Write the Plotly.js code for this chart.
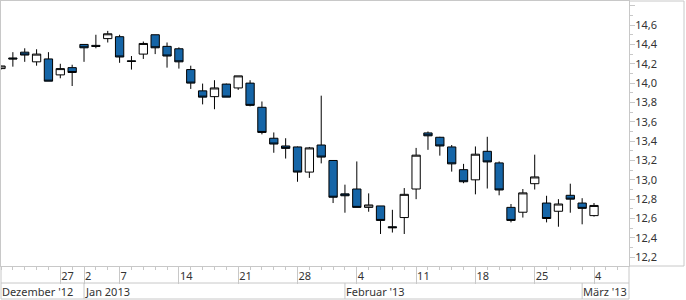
<!DOCTYPE html>
<html><head><meta charset="utf-8">
<script src="https://cdn.plot.ly/plotly-3.0.1.min.js"></script>
<style>html,body{margin:0;padding:0;background:#fff}#chart{width:686px;height:300px}</style>
</head><body><div id="chart"></div>
<script>
const dates = ['2012-12-17','2012-12-18','2012-12-19','2012-12-20','2012-12-21','2012-12-27','2012-12-28',
 '2013-01-02','2013-01-03','2013-01-04','2013-01-07','2013-01-08','2013-01-09','2013-01-10','2013-01-11',
 '2013-01-14','2013-01-15','2013-01-16','2013-01-17','2013-01-18','2013-01-21','2013-01-22','2013-01-23',
 '2013-01-24','2013-01-25','2013-01-28','2013-01-29','2013-01-30','2013-01-31','2013-02-01','2013-02-04',
 '2013-02-05','2013-02-06','2013-02-07','2013-02-08','2013-02-11','2013-02-12','2013-02-13','2013-02-14',
 '2013-02-15','2013-02-18','2013-02-19','2013-02-20','2013-02-21','2013-02-22','2013-02-25','2013-02-26',
 '2013-02-27','2013-02-28','2013-03-01','2013-03-04'];
const openP  = [14.15,14.26,14.32,14.22,14.25,14.085,14.16,14.40,14.39,14.46,14.48,14.23,14.30,14.50,14.38,
 14.355,14.14,13.92,13.86,13.99,13.95,14.00,13.75,13.43,13.35,13.34,13.08,13.36,13.20,12.855,12.905,
 12.715,12.73,12.515,12.61,12.905,13.485,13.44,13.34,13.105,13.00,13.295,13.175,12.715,12.665,12.96,12.76,
 12.675,12.84,12.76,12.63];
const highP  = [14.18,14.32,14.36,14.35,14.32,14.20,14.19,14.40,14.50,14.54,14.50,14.28,14.43,14.50,14.42,
 14.37,14.18,13.995,14.03,13.995,14.075,14.03,13.81,13.49,13.43,13.345,13.34,13.87,13.205,12.95,13.19,
 12.86,12.73,12.69,12.915,13.33,13.50,13.445,13.36,13.165,13.345,13.445,13.19,12.75,12.905,13.26,12.835,
 12.80,12.96,12.81,12.76];
const lowP   = [14.14,14.17,14.22,14.18,14.02,14.05,13.97,14.22,14.36,14.42,14.21,14.14,14.25,14.30,14.16,
 14.15,13.94,13.78,13.73,13.855,13.93,13.76,13.47,13.28,13.22,12.98,13.02,13.17,12.76,12.66,12.715,
 12.67,12.44,12.455,12.44,12.80,13.31,13.25,13.085,12.965,12.85,12.91,12.84,12.56,12.61,12.90,12.56,
 12.515,12.66,12.54,12.62];
const closeP = [14.177,14.25,14.29,14.30,14.02,14.15,14.11,14.365,14.38,14.51,14.27,14.225,14.41,14.365,14.28,
 14.22,14.00,13.855,13.95,13.855,14.075,13.77,13.49,13.37,13.325,13.08,13.33,13.235,12.82,12.835,12.715,
 12.74,12.58,12.505,12.85,13.255,13.455,13.35,13.165,12.98,13.265,13.185,12.895,12.58,12.865,13.03,12.60,
 12.75,12.80,12.705,12.735];
const weekTickDates  = ['2012-12-27','2013-01-02','2013-01-07','2013-01-14','2013-01-21','2013-01-28',
 '2013-02-04','2013-02-11','2013-02-18','2013-02-25','2013-03-04'];
const weekTickLabels = ['27','2','7','14','21','28','4','11','18','25','4'];
const monthStartDates = ['2012-12-17','2013-01-02','2013-02-01','2013-03-01'];
const monthLabels = ["Dezember '12","Jan 2013","Februar '13","März '13"];

const idx = dates.map((d,i)=>i);
const pos = d => dates.indexOf(d);
const gridC = '#c8c8c8';
const rowY = -17/265, botY = -33/265, panelX = 683/628;

const trace = {
  type:'candlestick', x: idx, open: openP, high: highP, low: lowP, close: closeP,
  increasing:{line:{color:'#000', width:1}, fillcolor:'#ffffff'},
  decreasing:{line:{color:'#000', width:1}, fillcolor:'#1565a7'},
  whiskerwidth:0, hoverinfo:'skip'
};

const shapes = [
  {type:'line', xref:'paper', yref:'paper', x0:0, x1:1, y0:rowY, y1:rowY, line:{color:gridC, width:1}},
  {type:'line', xref:'paper', yref:'paper', x0:0, x1:1, y0:botY, y1:botY, line:{color:gridC, width:1}},
  {type:'line', xref:'paper', yref:'paper', x0:0, x1:0, y0:0, y1:botY, line:{color:gridC, width:1}},
  {type:'line', xref:'paper', yref:'paper', x0:1, x1:1, y0:0, y1:botY, line:{color:gridC, width:1}},
  {type:'line', xref:'paper', yref:'paper', x0:panelX, x1:panelX, y0:0, y1:1, line:{color:gridC, width:1}},
  {type:'line', xref:'paper', yref:'paper', x0:1, x1:panelX, y0:1, y1:1, line:{color:gridC, width:1}},
  {type:'line', xref:'paper', yref:'paper', x0:1, x1:panelX, y0:0, y1:0, line:{color:gridC, width:1}}
];
monthStartDates.slice(1).forEach(d => shapes.push(
  {type:'line', xref:'x', yref:'paper', x0:pos(d), x1:pos(d), y0:rowY, y1:botY, line:{color:gridC, width:1}}));

const annotations = monthStartDates.map((d,i)=>({
  xref:'x', yref:'paper', x:pos(d), y:(rowY+botY)/2, yanchor:'middle', xanchor:'left',
  xshift: -1, text: monthLabels[i], showarrow:false, font:{size:11, color:'#333'}
}));

const layout = {
  width:686, height:300,
  margin:{l:1, r:57, t:1, b:34, pad:0},
  paper_bgcolor:'#fff', plot_bgcolor:'#fff',
  separators:',.', showlegend:false,
  boxgap:0.3, boxgroupgap:0,
  font:{family:'"Noto Sans", "Open Sans", sans-serif', size:11, color:'#333'},
  xaxis:{type:'linear', range:[0, 52.95], rangeslider:{visible:false}, fixedrange:true,
    showgrid:false, zeroline:false, showline:true, linecolor:gridC, linewidth:1, mirror:true,
    ticks:'outside', ticklen:17, tickcolor:gridC, tickwidth:1,
    tickmode:'array', tickvals: weekTickDates.map(pos), ticktext: weekTickLabels,
    ticklabelposition:'outside right', ticklabelstandoff:0,
    minor:{ticks:'outside', ticklen:3, dtick:1, tick0:0, tickcolor:gridC, showgrid:false}},
  yaxis:{side:'right', range:[12.109, 14.849], dtick:0.2, tick0:0, tickformat:'.1f', fixedrange:true,
    ticks:'outside', ticklen:5, tickcolor:gridC, showline:true, linecolor:gridC, linewidth:1, mirror:true,
    showgrid:false, zeroline:false, ticklabelstandoff:-2,
    minor:{ticks:'outside', ticklen:3, dtick:0.1, tick0:0, tickcolor:gridC, showgrid:false}},
  shapes, annotations
};
Plotly.newPlot('chart', [trace], layout, {displayModeBar:false, staticPlot:true});
</script></body></html>
